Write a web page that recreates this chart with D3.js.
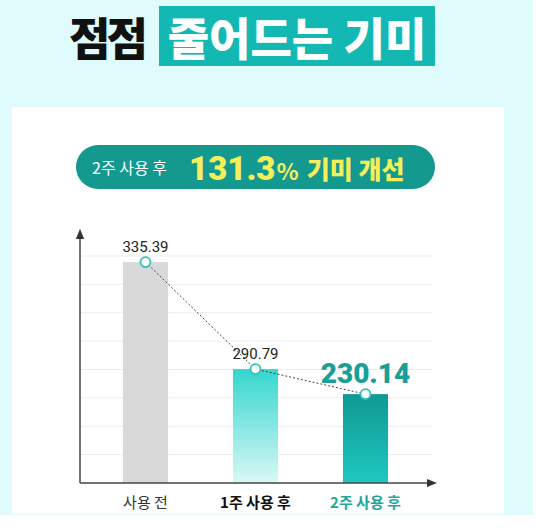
<!DOCTYPE html>
<html><head><meta charset="utf-8">
<script src="https://cdn.jsdelivr.net/npm/d3@7"></script>
<style>
html,body{margin:0;padding:0;background:#fff;}
svg{display:block;font-family:"Noto Sans CJK KR","Noto Sans",sans-serif;}
</style></head>
<body>
<script>
// ---- data ----
const categories = ["사용 전", "1주 사용 후", "2주 사용 후"];
const values = [335.39, 290.79, 230.14];
const valueLabels = ["335.39", "290.79", "230.14"];
const titleLeft = "점점";
const titleRight = "줄어드는 기미";
const badgePrefix = "2주 사용 후";
const badgeNumber = "131.3";
const badgeSuffix = "기미 개선";

const W = 537, H = 530;
const svg = d3.select("body").append("svg").attr("width", W).attr("height", H);
const defs = svg.append("defs");

// background
svg.append("rect").attr("width", W).attr("height", H).attr("fill", "#fff");
svg.append("rect").attr("width", 533).attr("height", 515).attr("fill", "#e0fbfc");
svg.append("rect").attr("x", 12).attr("y", 107).attr("width", 492).attr("height", 407).attr("fill", "#fff");

// title
svg.append("rect").attr("x", 159).attr("y", 6).attr("width", 276).attr("height", 60).attr("fill", "#14b8b3");
svg.append("text").attr("x", 69).attr("y", 56).attr("font-size", 45).attr("font-weight", 900)
  .attr("letter-spacing", -4).attr("fill", "#111").text(titleLeft);
svg.append("text").attr("x", 297).attr("y", 56).attr("text-anchor", "middle").attr("font-size", 45).attr("font-weight", 900)
  .attr("letter-spacing", 0).attr("fill", "#fff").text(titleRight);

// badge
svg.append("rect").attr("x", 76).attr("y", 145).attr("width", 359).attr("height", 44).attr("rx", 22)
  .attr("fill", "#14998f");
const bt = svg.append("text").attr("y", 178).attr("fill", "#f4ef5a");
bt.append("tspan").attr("x", 92).attr("y", 174).attr("font-size", 16).attr("fill", "#fff").text(badgePrefix);
bt.append("tspan").attr("x", 189).attr("y", 180).attr("font-size", 33).attr("font-weight", 900)
  .attr("font-family", "Roboto, 'Noto Sans', sans-serif").text(badgeNumber);
bt.append("tspan").attr("dx", 1).attr("font-size", 23).attr("font-weight", 700).text("%");
bt.append("tspan").attr("dx", 8).attr("y", 179).attr("font-size", 25).attr("font-weight", 900).text(badgeSuffix);

// chart geometry
const x0 = 80, yBase = 483, xEnd = 432;
const x = d3.scaleBand().domain(categories).range([90.5, 420.5]).paddingInner(0.59).paddingOuter(0.295);
// illustrative (non-linear) value axis, as in the original
const y = d3.scaleLinear().domain([0, 290, 350]).range([yBase, 371, 227]);
const grid = d3.scaleLinear().domain([0, 8]).range([yBase, 256]);

// gridlines
svg.append("g").selectAll("line").data(d3.range(1, 9)).join("line")
  .attr("x1", x0).attr("x2", xEnd).attr("y1", d => grid(d)).attr("y2", d => grid(d))
  .attr("stroke", "#ececec").attr("stroke-width", 1);

// gradients
const g2 = defs.append("linearGradient").attr("id", "g2").attr("x1", 0).attr("x2", 0).attr("y1", 0).attr("y2", 1);
g2.append("stop").attr("offset", "0%").attr("stop-color", "#35d6cf");
g2.append("stop").attr("offset", "100%").attr("stop-color", "#d9f8f5");
const g3 = defs.append("linearGradient").attr("id", "g3").attr("x1", 0).attr("x2", 0).attr("y1", 0).attr("y2", 1);
g3.append("stop").attr("offset", "0%").attr("stop-color", "#0f9994");
g3.append("stop").attr("offset", "100%").attr("stop-color", "#1fc8bf");
const fills = ["#d9d9d9", "url(#g2)", "url(#g3)"];

// bars
svg.append("g").selectAll("rect").data(values).join("rect")
  .attr("x", (d, i) => x(categories[i])).attr("width", x.bandwidth())
  .attr("y", d => y(d)).attr("height", d => yBase - y(d))
  .attr("fill", (d, i) => fills[i]);

// axes
defs.append("marker").attr("id", "arr").attr("viewBox", "0 0 10 10").attr("refX", 5).attr("refY", 5)
  .attr("markerWidth", 7).attr("markerHeight", 7).attr("orient", "auto-start-reverse")
  .append("path").attr("d", "M0,1 L10,5 L0,9 Z").attr("fill", "#333");
svg.append("line").attr("x1", x0).attr("x2", x0).attr("y1", yBase).attr("y2", 234)
  .attr("stroke", "#444").attr("stroke-width", 1.5).attr("marker-end", "url(#arr)");
svg.append("line").attr("x1", x0).attr("x2", xEnd).attr("y1", yBase).attr("y2", yBase)
  .attr("stroke", "#444").attr("stroke-width", 1.5).attr("marker-end", "url(#arr)");

// dashed connector
const cx = (d, i) => x(categories[i]) + x.bandwidth() / 2;
svg.append("path").datum(values)
  .attr("d", d3.line().x(cx).y(d => y(d)))
  .attr("fill", "none").attr("stroke", "#444").attr("stroke-width", 1).attr("stroke-dasharray", "2,2");

// points
svg.append("g").selectAll("circle").data(values).join("circle")
  .attr("cx", cx).attr("cy", d => y(d)).attr("r", 5)
  .attr("fill", "#fff").attr("stroke", "#2cc2b8").attr("stroke-width", 1.8);

// value labels
svg.append("g").selectAll("text").data(values).join("text")
  .attr("x", cx).attr("y", (d, i) => i === 2 ? y(d) - 11 : y(d) - 10)
  .attr("text-anchor", "middle")
  .attr("font-family", "Roboto, 'Noto Sans', sans-serif")
  .attr("font-size", (d, i) => i === 2 ? 28 : 15)
  .attr("font-weight", (d, i) => i === 2 ? 900 : 400)
  .attr("fill", (d, i) => i === 2 ? "#1a9f98" : "#222")
  .text((d, i) => valueLabels[i]);

// category labels
const catColor = ["#333", "#111", "#1fa69c"];
const catWeight = [400, 700, 700];
svg.append("g").selectAll("text").data(categories).join("text")
  .attr("x", d => x(d) + x.bandwidth() / 2).attr("y", 508)
  .attr("text-anchor", "middle").attr("font-size", 15)
  .attr("font-weight", (d, i) => catWeight[i]).attr("fill", (d, i) => catColor[i])
  .text(d => d);
</script>
</body></html>
